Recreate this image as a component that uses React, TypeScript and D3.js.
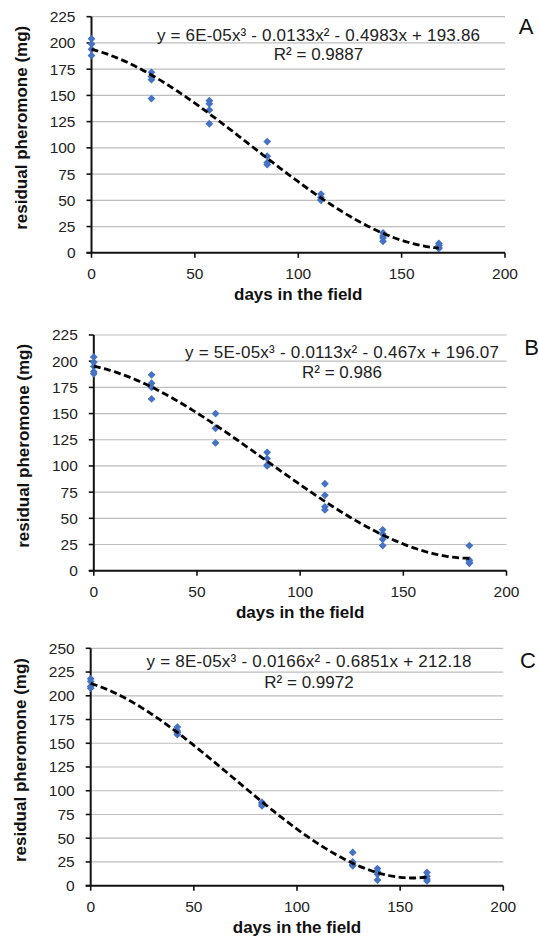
import React from 'react';
import * as d3 from 'd3';

// ---------- data ----------
const daysA = [0, 29, 57, 85, 111, 141, 168];
const residueA = [
  [204, 199, 194, 188],
  [172, 168, 165, 147],
  [145, 142, 136, 123],
  [106, 92, 86, 84],
  [56, 53, 51, 50],
  [19, 16, 14, 11],
  [9, 7, 5, 4],
];
const daysB = [0, 28, 59, 84, 112, 140, 182];
const residueB = [
  [204, 199, 195, 190, 188],
  [187, 179, 175, 164],
  [150, 136, 122],
  [113, 107, 101, 100],
  [83, 72, 61, 58],
  [39, 35, 30, 24],
  [24, 10, 8, 7],
];
const daysC = [0, 42, 83, 127, 139, 163];
const residueC = [
  [218, 215, 210, 208],
  [167, 163, 161, 159],
  [88, 86, 84],
  [35, 25, 22, 21],
  [18, 15, 12, 6],
  [14, 10, 7, 5],
];
const xTicks = [0, 50, 100, 150, 200];
const yTicksAB = [0, 25, 50, 75, 100, 125, 150, 175, 200, 225];
const yTicksC = [0, 25, 50, 75, 100, 125, 150, 175, 200, 225, 250];
const equationA = 'y = 6E-05x³ - 0.0133x² - 0.4983x + 193.86';
const equationB = 'y = 5E-05x³ - 0.0113x² - 0.467x + 196.07';
const equationC = 'y = 8E-05x³ - 0.0166x² - 0.6851x + 212.18';
const r2A = 'R² = 0.9887';
const r2B = 'R² = 0.986';
const r2C = 'R² = 0.9972';
const panelLetters = ['A', 'B', 'C'];
const xTitle = 'days in the field';
const yTitle = 'residual pheromone (mg)';

// ---------- layout ----------
const panels = [
  {
    days: daysA, residue: residueA, yTicks: yTicksAB, eq: equationA, r2: r2A, letter: panelLetters[0],
    left: 91.5, right: 505, top: 16.7, bottom: 252.8,
    eqX: 318.5, eqY: 41, eqW: 323, r2Y: 59.5, letterX: 526, letterY: 34,
  },
  {
    days: daysB, residue: residueB, yTicks: yTicksAB, eq: equationB, r2: r2B, letter: panelLetters[1],
    left: 93.8, right: 506.5, top: 335, bottom: 570.7,
    eqX: 342, eqY: 358, eqW: 314, r2Y: 378, letterX: 531.5, letterY: 355,
  },
  {
    days: daysC, residue: residueC, yTicks: yTicksC, eq: equationC, r2: r2C, letter: panelLetters[2],
    left: 90.7, right: 503.3, top: 648.3, bottom: 885.7,
    eqX: 309, eqY: 667, eqW: 325, r2Y: 688, letterX: 528, letterY: 668,
  },
];

const FONT = 'Liberation Sans, Arial, Helvetica, sans-serif';
const BLUE = '#4472C4';

function cubicFit(xs: number[], ys: number[]) {
  const s = 100;
  const n = 4;
  const A = Array.from({ length: n }, () => new Array(n + 1).fill(0));
  xs.forEach((xr, k) => {
    const x = xr / s;
    const p = [1, x, x * x, x * x * x];
    for (let i = 0; i < n; i++) {
      for (let j = 0; j < n; j++) A[i][j] += p[i] * p[j];
      A[i][n] += p[i] * ys[k];
    }
  });
  for (let c = 0; c < n; c++) {
    let piv = c;
    for (let r = c + 1; r < n; r++) if (Math.abs(A[r][c]) > Math.abs(A[piv][c])) piv = r;
    [A[c], A[piv]] = [A[piv], A[c]];
    for (let r = 0; r < n; r++) {
      if (r === c) continue;
      const f = A[r][c] / A[c][c];
      for (let k = c; k <= n; k++) A[r][k] -= f * A[c][k];
    }
  }
  const coef = A.map((row, i) => row[n] / row[i]);
  return (xr: number) => {
    const x = xr / s;
    return coef[0] + coef[1] * x + coef[2] * x * x + coef[3] * x * x * x;
  };
}

function Panel({ p }: { p: (typeof panels)[number] }) {
  const yMax = p.yTicks[p.yTicks.length - 1];
  const x = d3.scaleLinear().domain([0, 200]).range([p.left, p.right]);
  const y = d3.scaleLinear().domain([0, yMax]).range([p.bottom, p.top]);
  const pts: { d: number; v: number }[] = [];
  p.days.forEach((d, i) => p.residue[i].forEach((v) => pts.push({ d, v })));
  const f = cubicFit(pts.map((q) => q.d), pts.map((q) => q.v));
  const maxDay = d3.max(p.days) as number;
  const curveX = d3.range(0, maxDay + 0.001, 1);
  const line = d3.line<number>().x((d) => x(d)).y((d) => y(f(d)));
  const diamond = (cx: number, cy: number, r: number) =>
    `M${cx},${cy - r}L${cx + r},${cy}L${cx},${cy + r}L${cx - r},${cy}Z`;
  const midY = (p.top + p.bottom) / 2 - 7;
  return (
    <g>
      {p.yTicks.filter((t) => t > 0).map((t) => (
        <line key={'g' + t} x1={x(0)} x2={x(200)} y1={y(t)} y2={y(t)} stroke="#bdbdbd" strokeWidth={1.2} />
      ))}
      <line x1={x(0)} x2={x(0)} y1={y(yMax)} y2={y(0)} stroke="#111" strokeWidth={2} />
      <line x1={x(0) - 5} x2={x(200)} y1={y(0)} y2={y(0)} stroke="#111" strokeWidth={2} />
      {p.yTicks.map((t) => (
        <g key={'yt' + t}>
          <line x1={x(0) - 5} x2={x(0)} y1={y(t)} y2={y(t)} stroke="#111" strokeWidth={1.6} />
          <text x={x(0) - 16} y={y(t) + 5.4} textAnchor="end" fontSize={15.5} fontFamily={FONT} fill="#222">
            {t}
          </text>
        </g>
      ))}
      {xTicks.map((t) => (
        <g key={'xt' + t}>
          <line x1={x(t)} x2={x(t)} y1={y(0)} y2={y(0) + 5} stroke="#111" strokeWidth={1.6} />
          <text x={x(t)} y={y(0) + 26.5} textAnchor="middle" fontSize={15.5} fontFamily={FONT} fill="#222">
            {t}
          </text>
        </g>
      ))}
      <text x={(p.left + p.right) / 2} y={p.bottom + 47.5} textAnchor="middle" fontSize={17} fontWeight="bold" fontFamily={FONT} fill="#111">
        {xTitle}
      </text>
      <text
        transform={`translate(${p.left - 65},${midY}) rotate(-90)`}
        textAnchor="middle"
        fontSize={17}
        fontWeight="bold"
        fontFamily={FONT}
        fill="#111"
      >
        {yTitle}
      </text>
      {pts.map((q, i) => (
        <path key={'pt' + i} d={diamond(x(q.d), y(q.v), 3.9)} fill={BLUE} />
      ))}
      <path d={line(curveX) || ''} fill="none" stroke="#000" strokeWidth={2.8} strokeDasharray="7,3.5" />
      <text x={p.eqX} y={p.eqY} textAnchor="middle" fontSize={17} fontFamily={FONT} fill="#222" textLength={p.eqW} lengthAdjust="spacing">
        {p.eq}
      </text>
      <text x={p.eqX} y={p.r2Y} textAnchor="middle" fontSize={17} fontFamily={FONT} fill="#222">
        {p.r2}
      </text>
      <text x={p.letterX} y={p.letterY} textAnchor="middle" fontSize={22} fontFamily={FONT} fill="#111">
        {p.letter}
      </text>
    </g>
  );
}

export default function App() {
  return (
    <svg
      width={539}
      height={939}
      style={{ position: 'absolute', left: 0, top: 0, background: '#fff' }}
    >
      <rect width={539} height={939} fill="#fff" />
      {panels.map((p, i) => (
        <Panel key={i} p={p} />
      ))}
    </svg>
  );
}
